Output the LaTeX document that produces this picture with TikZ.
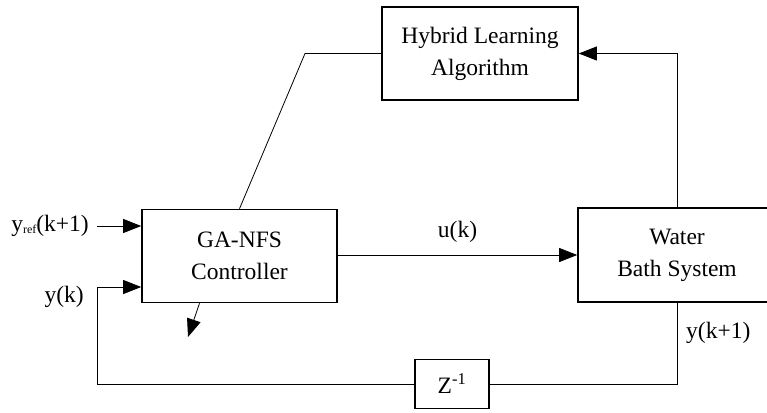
\documentclass[tikz,border=0pt]{standalone}
\usepackage{fontspec}
\setmainfont{Liberation Serif}
\usepackage{tikz}
\usetikzlibrary{arrows.meta}
\newcommand{\blocktext}{\fontsize{23.5}{32}\selectfont}

\begin{document}
\begin{tikzpicture}[x=1pt, y=-1pt,
  block/.style={draw, line width=1.6pt, align=center, inner sep=0pt, font=\blocktext},
  wire/.style={line width=0.8pt},
  sig/.style={wire, -{Triangle[length=18pt,width=14pt]}},
  lbl/.style={font=\blocktext, inner sep=0pt}]
  \useasboundingbox (0,0) rectangle (767,412);
  \node[block, minimum width=196, minimum height=93] (hla) at (480,53.5) {Hybrid Learning\\Algorithm};
  \node[block, minimum width=195, minimum height=93] (ctrl) at (239.5,256) {GA-NFS\\Controller};
  \node[block, minimum width=198, minimum height=94] (plant) at (677,255) {Water\\Bath System};
  \node[block, minimum width=74, minimum height=49] (zinv) at (452,384) {Z\textsuperscript{-1}};
  \coordinate (knee) at (305,53.5);
  \coordinate (yrefin) at (97,226);
  \coordinate (fb) at (97,287);
  \coordinate (adapt) at (188,337);
  \draw[wire] (ctrl.north) -- (knee) -- (hla.west);
  \draw[sig] (plant.north) |- (hla.east);
  \draw[sig] (ctrl.east |- 0,255) -- (plant.west) node[lbl, pos=0.5, above=12pt] (uk) {u(k)};
  \draw[sig] (yrefin) -- (yrefin -| ctrl.west);
  \draw[wire] (plant.south) |- (zinv.east);
  \draw[sig] (zinv.west) -| (fb) -- (fb -| ctrl.west);
  \draw[sig] ([xshift=-40pt]ctrl.south) -- (adapt);
  \node[lbl, anchor=east] (yref) at (89,226) {y\raisebox{-1.5pt}{\fontsize{12}{12}\selectfont ref}(k+1)};
  \node[lbl, anchor=east] (yk) at (84,297) {y(k)};
  \node[lbl, anchor=west] (yk1) at (686,333) {y(k+1)};
\end{tikzpicture}
\end{document}
